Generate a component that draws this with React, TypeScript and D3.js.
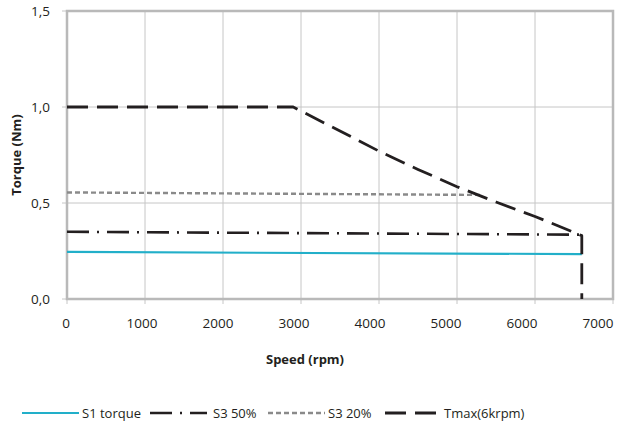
import React from "react";
import * as d3 from "d3";

const xTicks = [0, 1000, 2000, 3000, 4000, 5000, 6000, 7000];
const yTicks = [0, 0.5, 1.0, 1.5];
const yTickLabels = ["0,0", "0,5", "1,0", "1,5"];

const s1Speed = [0, 6600];
const s1Torque = [0.245, 0.234];
const s3_50Speed = [0, 6600];
const s3_50Torque = [0.35, 0.335];
const s3_20Speed = [0, 5300];
const s3_20Torque = [0.555, 0.542];
const tmaxSpeed = [0, 2900, 3500, 4000, 4500, 5000, 5500, 6000, 6600, 6600];
const tmaxTorque = [1.0, 1.0, 0.875, 0.77, 0.675, 0.585, 0.505, 0.43, 0.33, 0];

const seriesNames = ["S1 torque", "S3 50%", "S3 20%", "Tmax(6krpm)"];

const FONT = "'Open Sans', 'Noto Sans', sans-serif";
const TXT = "#231f20";

const styles = [
  { stroke: "#22afc9", width: 2.2, dash: "none", cap: "butt" },
  { stroke: "#231f20", width: 2.6, dash: "22,8,2,8", cap: "butt" },
  { stroke: "#8a8a8a", width: 2.4, dash: "5,3", cap: "butt" },
  { stroke: "#231f20", width: 2.8, dash: "21,9", cap: "butt" },
];

export default function App() {
  const W = 635, H = 428;
  const x = d3.scaleLinear().domain([0, 7000]).range([67, 613]);
  const xLab = d3.scaleLinear().domain([0, 7000]).range([66, 598]);
  const y = d3.scaleLinear().domain([0, 1.5]).range([299, 11]);
  const line = d3.line<[number, number]>().x(d => x(d[0])).y(d => y(d[1]));
  const mk = (s: number[], t: number[]) => s.map((v, i) => [v, t[i]] as [number, number]);
  const data = [
    mk(s1Speed, s1Torque),
    mk(s3_50Speed, s3_50Torque),
    mk(s3_20Speed, s3_20Torque),
    mk(tmaxSpeed, tmaxTorque),
  ];
  const legendX = [22, 150, 268, 385];
  const legendTextX = [82, 213, 328, 444];
  return (
    <svg width={W} height={H} style={{ position: "absolute", left: 0, top: 0 }} fontFamily={FONT}>
      <rect width={W} height={H} fill="#fff" />
      {xTicks.map(t => (
        <line key={"gx" + t} x1={x(t)} x2={x(t)} y1={y(1.5)} y2={y(0) + 5} stroke="#c6c6c6" strokeWidth={1} />
      ))}
      {yTicks.map(t => (
        <line key={"gy" + t} x1={x(0) - 5} x2={x(7000)} y1={y(t)} y2={y(t)} stroke="#c6c6c6" strokeWidth={1} />
      ))}
      <rect x={x(0)} y={y(1.5)} width={x(7000) - x(0)} height={y(0) - y(1.5)} fill="none" stroke="#b9b9b9" strokeWidth={2.5} />
      {yTicks.map((t, i) => (
        <text key={"ly" + t} x={50} y={y(t) + 5} textAnchor="end" fontSize={13.5} fill={TXT}>{yTickLabels[i]}</text>
      ))}
      {xTicks.map(t => (
        <text key={"lx" + t} x={xLab(t)} y={328} textAnchor="middle" fontSize={13.5} fill={TXT}>{t}</text>
      ))}
      {data.map((d, i) => (
        <path key={"s" + i} d={line(d) || ""} fill="none" stroke={styles[i].stroke} strokeWidth={styles[i].width}
          strokeDasharray={styles[i].dash} strokeLinejoin="round" />
      ))}
      <text x={305} y={364} textAnchor="middle" fontSize={13} fontWeight="bold" fill={TXT}>Speed (rpm)</text>
      <text transform={`translate(21,${y(0.75)}) rotate(-90)`} textAnchor="middle" fontSize={13} fontWeight="bold" fill={TXT}>Torque (Nm)</text>
      {seriesNames.map((n, i) => (
        <g key={"lg" + i}>
          <line x1={legendX[i]} x2={legendX[i] + 57} y1={413} y2={413} stroke={styles[i].stroke}
            strokeWidth={styles[i].width} strokeDasharray={styles[i].dash} />
          <text x={legendTextX[i]} y={418} fontSize={13} fill={TXT}>{n}</text>
        </g>
      ))}
    </svg>
  );
}
